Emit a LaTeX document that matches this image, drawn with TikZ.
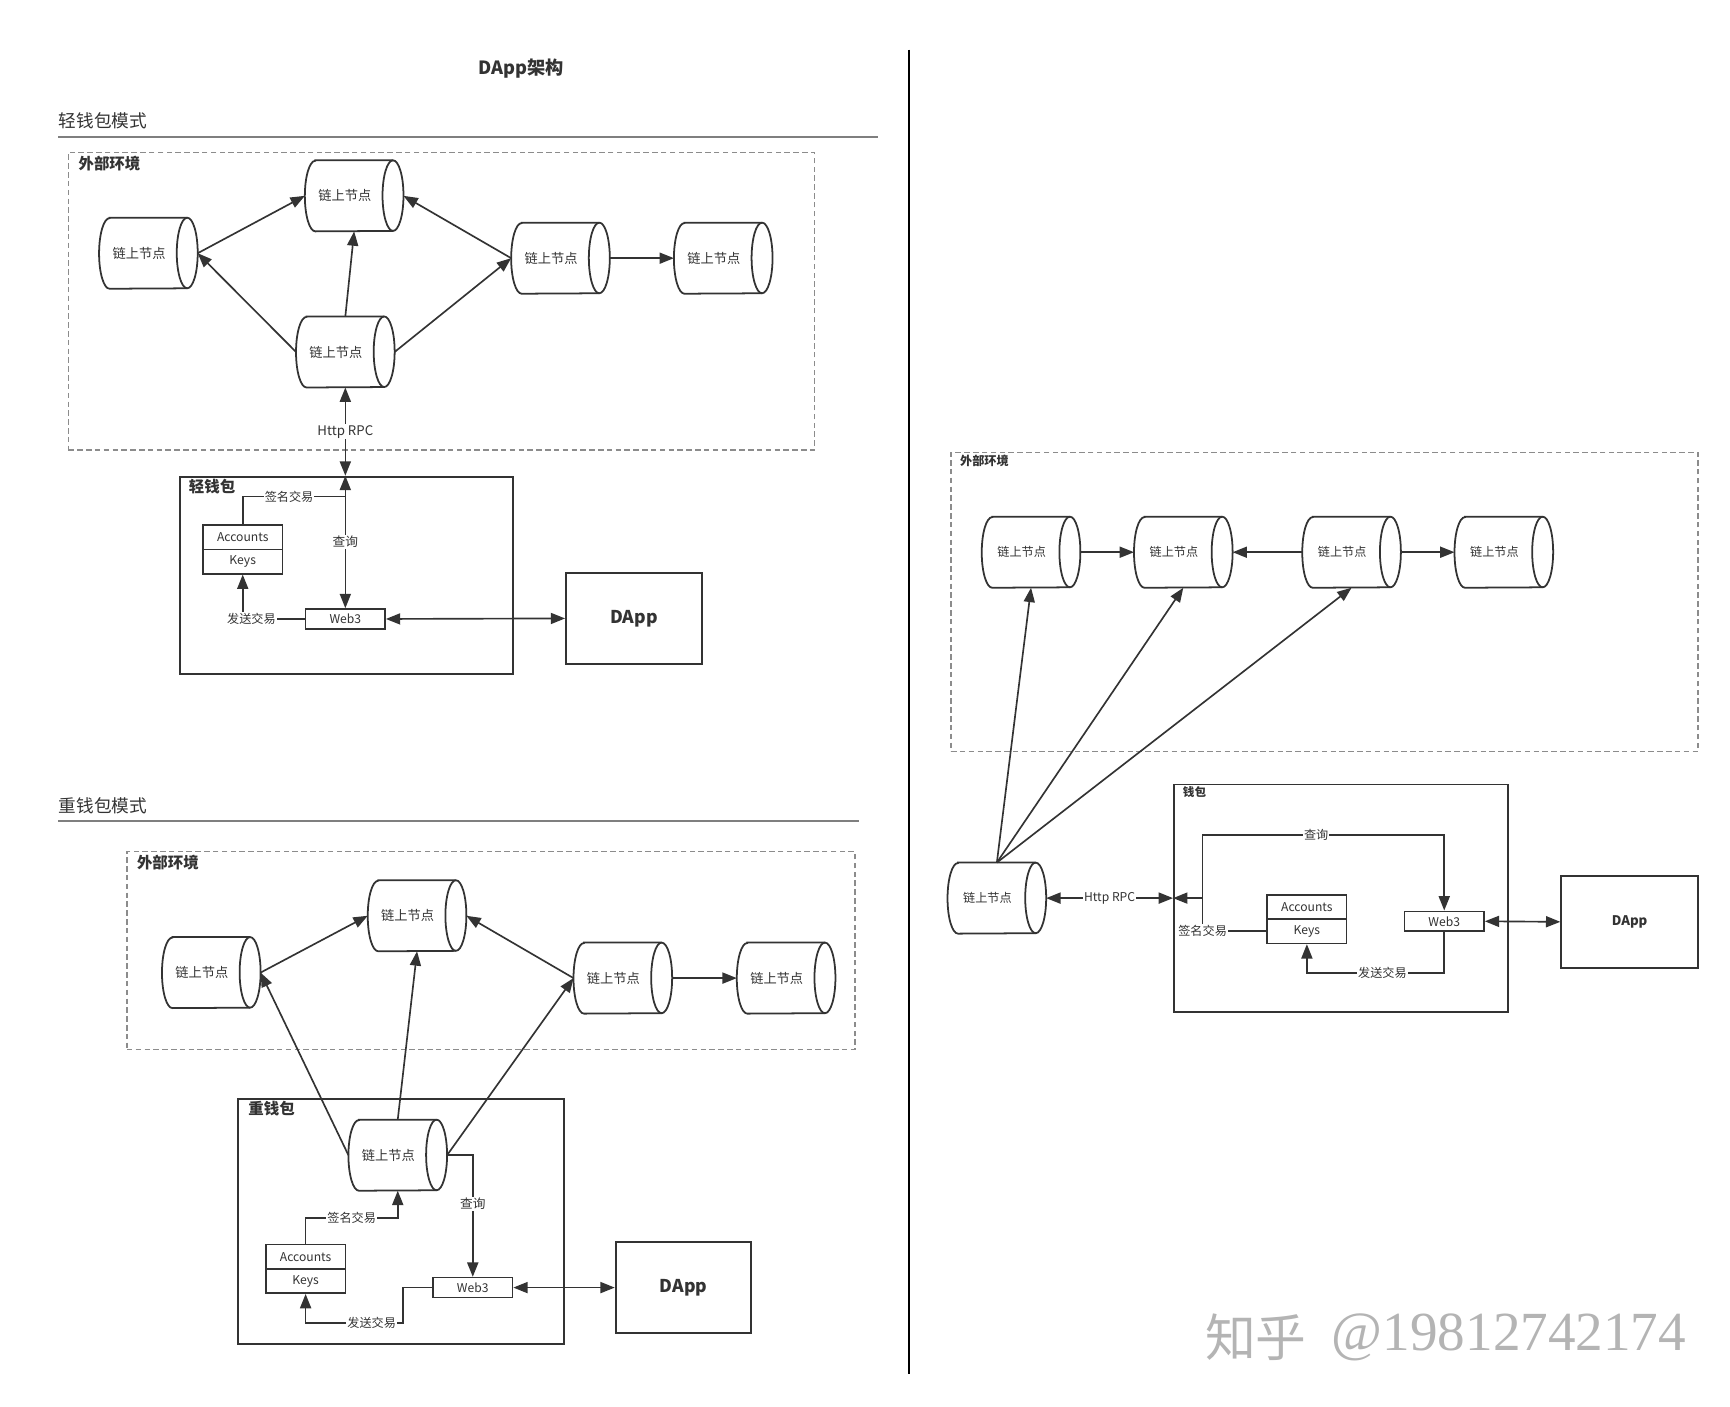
\documentclass[tikz,border=0pt]{standalone}
\usepackage{fontspec}
\setmainfont{Noto Sans CJK SC}
\newfontfamily\wmfont{Liberation Serif}
\usetikzlibrary{arrows.meta,calc}
\definecolor{dk}{HTML}{333333}
\definecolor{dashc}{HTML}{8C8C8C}
\definecolor{ulc}{HTML}{7F7F7F}
\definecolor{wm}{HTML}{B4B4B4}
\tikzset{
  ln/.style={draw=dk, line width=1.5pt},
  arr/.style={ln, -{Triangle[length=13pt,width=10pt]}},
  darr/.style={ln, {Triangle[length=13pt,width=10pt]}-{Triangle[length=13pt,width=10pt]}},
  cyl/.style={rectangle, minimum width=89pt, minimum height=64pt, inner sep=0pt},
  cylline/.style={draw=dk, line width=1.6pt},
  ctext/.style={xshift=-8.5pt, text=dk, font=\fontsize{12}{14}\selectfont},
  ctextr/.style={xshift=-8.5pt, text=dk, font=\fontsize{11}{13}\selectfont},
  box/.style={draw=dk, line width=1.6pt, inner sep=0pt},
  dbox/.style={draw=dashc, line width=1.3pt, dash pattern=on 5pt off 3pt, inner sep=0pt},
  sbox/.style={draw=dk, line width=1.5pt, inner sep=0pt, minimum width=72pt, text=dk, font=\fontsize{11}{13}\selectfont},
  lbl/.style={fill=white, inner sep=1pt, text=dk, font=\fontsize{11}{13}\selectfont},
  grp/.style={anchor=west, inner sep=0pt, text=dk, font=\fontsize{14}{16}\selectfont\bfseries},
  grps/.style={anchor=west, inner sep=0pt, text=dk, font=\fontsize{11}{13}\selectfont\bfseries},
  head/.style={anchor=west, inner sep=0pt, text=dk, font=\fontsize{16}{18}\selectfont},
  dapp/.style={box, text=dk, font=\fontsize{16}{18}\selectfont\bfseries},
}
% outline of a horizontal cylinder around a named rectangle node
\newcommand\cylout[1]{%
  \draw[cylline] ([xshift=9.5pt]#1.north west) -- ([xshift=-9.5pt]#1.north east)
    arc[start angle=90, end angle=-90, x radius=9.5pt, y radius=32pt]
    -- ([xshift=9.5pt]#1.south west)
    arc[start angle=270, end angle=90, x radius=9.5pt, y radius=32pt] -- cycle;
  \draw[cylline] ([xshift=-9.5pt]#1.north east)
    arc[start angle=90, end angle=270, x radius=9.5pt, y radius=32pt];
}
\begin{document}
\begin{tikzpicture}[x=1pt,y=-1pt]
\useasboundingbox (0,0) rectangle (1568,1275);
\fill[white] (0,0) rectangle (1568,1275);

% title, divider, headings
\node[inner sep=0pt, text=dk, font=\fontsize{16.5}{18}\selectfont\bfseries] (title) at (472,62) {DApp架构};
\draw[black, line width=1.8pt] (824,45) -- (824,1245);
\node[head] (h1) at (53,109) {轻钱包模式};
\draw[ulc, line width=1.8pt] (53,124) -- (796,124);
\node[head] (h2) at (53,730) {重钱包模式};
\draw[ulc, line width=1.8pt] (53,744) -- (779,744);

% ================= light wallet =================
\node[dbox, minimum width=676pt, minimum height=270pt] (env1) at (400,273) {};
\node[grp] (env1l) at (71,148) {外部环境};
\node[cyl, label={[ctext]center:链上节点}] (A) at (134.5,229.5) {}; \cylout{A}
\node[cyl, label={[ctext]center:链上节点}] (B) at (321,177.5) {}; \cylout{B}
\node[cyl, label={[ctext]center:链上节点}] (C) at (508,234) {}; \cylout{C}
\node[cyl, label={[ctext]center:链上节点}] (D) at (655.5,234) {}; \cylout{D}
\node[cyl, label={[ctext]center:链上节点}] (E) at (313,319) {}; \cylout{E}
\draw[arr] (A.east) -- (B.west);
\draw[arr] (E.west) -- (A.east);
\draw[arr] (E.north) -- (B.south);
\draw[arr] (E.east) -- (C.west);
\draw[arr] (C.west) -- (B.east);
\draw[arr] (C.east) -- (D.west);

\node[box, minimum width=302pt, minimum height=179pt] (lw) at (314,521.5) {};
\node[grp] (lwl) at (171,441) {轻钱包};
\node[sbox, minimum height=22pt] (acc1) at (220,487) {Accounts};
\node[sbox, minimum height=22pt] (keys1) at (220,509) {Keys};
\node[sbox, minimum height=18pt] (web1) at (313,561) {Web3};
\node[dapp, minimum width=123pt, minimum height=83pt] (dapp1) at (574.5,560.5) {DApp};

\draw[darr] (E.south) -- node[lbl, font=\fontsize{12}{14}\selectfont] {Http RPC} (E.south |- lw.north);
\draw[arr] (acc1.north) |- node[lbl, pos=0.726] {签名交易} (E.south |- 0,450) -- (E.south |- lw.north);
\draw[arr] (E.south |- lw.north) -- node[lbl, font=\fontsize{11.5}{13}\selectfont] {查询} (web1.north);
\draw[arr] (web1.west) -| node[lbl, pos=0.43] {发送交易} (keys1.south);
\draw[darr] (web1.east) -- (dapp1.west);

% ================= heavy wallet =================
\node[dbox, minimum width=660pt, minimum height=179pt] (env2) at (445,861.5) {};
\node[grp] (env2l) at (124,782) {外部环境};
\node[cyl, label={[ctext]center:链上节点}] (F) at (191.5,881.5) {}; \cylout{F}
\node[cyl, label={[ctext]center:链上节点}] (G) at (378,830) {}; \cylout{G}
\node[cyl, label={[ctext]center:链上节点}] (H) at (564.5,886.5) {}; \cylout{H}
\node[cyl, label={[ctext]center:链上节点}] (I) at (712.5,886.5) {}; \cylout{I}
\node[box, minimum width=295pt, minimum height=222pt] (hw) at (363.5,1107) {};
\node[grp] (hwl) at (225,1005) {重钱包};
\node[cyl, label={[ctext]center:链上节点}] (J) at (360.5,1047) {}; \cylout{J}
\draw[arr] (F.east) -- (G.west);
\draw[arr] (J.west) -- (F.east);
\draw[arr] (J.north) -- (G.south);
\draw[arr] (J.east) -- (H.west);
\draw[arr] (H.west) -- (G.east);
\draw[arr] (H.east) -- (I.west);

\node[sbox, minimum height=22pt] (acc2) at (277,1139) {Accounts};
\node[sbox, minimum height=22pt] (keys2) at (277,1161) {Keys};
\node[sbox, minimum height=18pt] (web2) at (428.5,1167) {Web3};
\node[dapp, minimum width=123pt, minimum height=82pt] (dapp2) at (619.5,1167) {DApp};

\draw[arr] (J.east) -| node[lbl, pos=0.70, font=\fontsize{11.5}{13}\selectfont] {查询} (web2.north);
\draw[arr] (acc2.north) |- node[lbl, pos=0.75] {签名交易} (J.south |- 0,1104) -- (J.south);
\draw[arr] (web2.west) -- (365,1167) |- node[lbl, pos=0.66] {发送交易} (keys2.south |- 0,1199) -- (keys2.south);
\draw[darr] (web2.east) -- (dapp2.west);

% ================= right diagram =================
\node[dbox, minimum width=677pt, minimum height=271pt] (env3) at (1200.5,545.5) {};
\node[grps] (env3l) at (870,418) {外部环境};
\node[cyl, label={[ctextr]center:链上节点}] (K) at (934.5,500.5) {}; \cylout{K}
\node[cyl, label={[ctextr]center:链上节点}] (L) at (1072.5,500.5) {}; \cylout{L}
\node[cyl, label={[ctextr]center:链上节点}] (M) at (1225,500.5) {}; \cylout{M}
\node[cyl, label={[ctextr]center:链上节点}] (N) at (1363,500.5) {}; \cylout{N}
\node[cyl, label={[ctextr]center:链上节点}] (P) at (903.5,814) {}; \cylout{P}
\draw[arr] (K.east) -- (L.west);
\draw[arr] (M.west) -- (L.east);
\draw[arr] (M.east) -- (N.west);
\draw[arr] (P.north) -- (K.south);
\draw[arr] (P.north) -- (L.south);
\draw[arr] (P.north) -- (M.south);

\node[box, minimum width=303pt, minimum height=206pt] (w3) at (1215.5,814) {};
\node[grps, font=\fontsize{10.5}{12}\selectfont\bfseries] (w3l) at (1072,718) {钱包};
\node[sbox, minimum height=22pt] (acc3) at (1184.5,822) {Accounts};
\node[sbox, minimum height=22pt] (keys3) at (1184.5,844) {Keys};
\node[sbox, minimum height=18pt] (web3) at (1309,835) {Web3};
\node[dapp, minimum width=124pt, minimum height=83pt, font=\fontsize{12}{14}\selectfont\bfseries] (dapp3) at (1477,835.5) {DApp};
\coordinate (jq) at (1090,814);

\draw[darr] (P.east) -- node[lbl] {Http RPC} (P.east -| w3.west);
\draw[arr] (jq) |- node[lbl, pos=0.735] {查询} (web3.north |- 0,757) -- (web3.north);
\draw[arr] (keys3.west) -| node[lbl, pos=0.5] {签名交易} (jq) -- (jq -| w3.west);
\draw[arr] (web3.south) -- (web3.south |- 0,882) -| node[lbl, pos=0.225] {发送交易} (keys3.south);
\draw[darr] (web3.east) -- (dapp3.west);

% watermark
\node[anchor=west, inner sep=0pt, text=wm, font=\fontsize{46}{50}\selectfont] (wm1) at (1092,1212) {知乎};
\node[anchor=west, inner sep=0pt, text=wm, font=\wmfont\fontsize{50}{54}\selectfont] (wm2) at (1207,1212) {@19812742174};
\end{tikzpicture}
\end{document}
